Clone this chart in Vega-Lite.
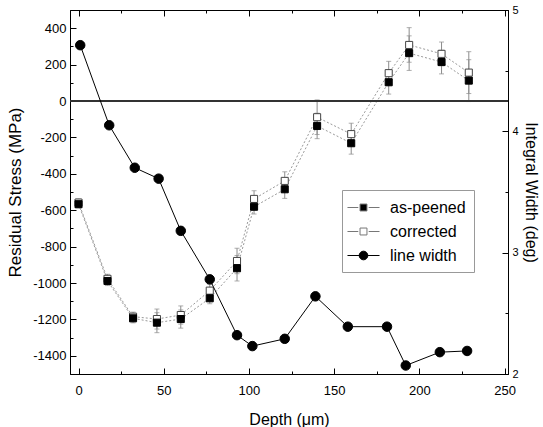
{
  "$schema": "https://vega.github.io/schema/vega-lite/v6.json",
  "width": 438,
  "height": 364,
  "autosize": "none",
  "padding": {"left": 70, "top": 10, "right": 35, "bottom": 53},
  "config": {
    "font": "Liberation Sans",
    "view": {"stroke": "black", "strokeWidth": 1},
    "axis": {
      "domainColor": "black", "tickColor": "black", "labelColor": "black", "titleColor": "black",
      "grid": false, "labelFont": "Liberation Sans", "titleFont": "Liberation Sans", "titleFontWeight": "normal"
    },
    "legend": {
      "orient": "none", "legendX": 272, "legendY": 180,
      "strokeColor": "#999", "padding": 8, "labelFontSize": 16, "labelFont": "Liberation Sans",
      "symbolSize": 300, "symbolOffset": 4, "labelOffset": 17, "rowPadding": 6, "fillColor": "white",
      "symbolOpacity": 1, "symbolStrokeWidth": 1
    }
  },
  "datasets": {
    "stress": [
      {"depth": 0, "series": "corrected", "stress": -558, "err": 20},
      {"depth": 17, "series": "corrected", "stress": -977, "err": 25},
      {"depth": 32, "series": "corrected", "stress": -1185, "err": 25},
      {"depth": 46, "series": "corrected", "stress": -1198, "err": 55},
      {"depth": 60, "series": "corrected", "stress": -1176, "err": 50},
      {"depth": 77, "series": "corrected", "stress": -1042, "err": 35},
      {"depth": 93, "series": "corrected", "stress": -879, "err": 70},
      {"depth": 103, "series": "corrected", "stress": -538, "err": 45},
      {"depth": 121, "series": "corrected", "stress": -439, "err": 50},
      {"depth": 140, "series": "corrected", "stress": -89, "err": 95},
      {"depth": 160, "series": "corrected", "stress": -182, "err": 60},
      {"depth": 182, "series": "corrected", "stress": 153, "err": 65},
      {"depth": 194, "series": "corrected", "stress": 308, "err": 95},
      {"depth": 213, "series": "corrected", "stress": 259, "err": 65},
      {"depth": 229, "series": "corrected", "stress": 156, "err": 115},
      {"depth": 0, "series": "as-peened", "stress": -567, "err": 20},
      {"depth": 17, "series": "as-peened", "stress": -989, "err": 25},
      {"depth": 32, "series": "as-peened", "stress": -1194, "err": 25},
      {"depth": 46, "series": "as-peened", "stress": -1218, "err": 55},
      {"depth": 60, "series": "as-peened", "stress": -1198, "err": 50},
      {"depth": 77, "series": "as-peened", "stress": -1084, "err": 30},
      {"depth": 93, "series": "as-peened", "stress": -919, "err": 70},
      {"depth": 103, "series": "as-peened", "stress": -581, "err": 40},
      {"depth": 121, "series": "as-peened", "stress": -485, "err": 50},
      {"depth": 140, "series": "as-peened", "stress": -137, "err": 70},
      {"depth": 160, "series": "as-peened", "stress": -232, "err": 60},
      {"depth": 182, "series": "as-peened", "stress": 103, "err": 65},
      {"depth": 194, "series": "as-peened", "stress": 263, "err": 95},
      {"depth": 213, "series": "as-peened", "stress": 214, "err": 65},
      {"depth": 229, "series": "as-peened", "stress": 112, "err": 115}
    ],
    "width": [
      {"depth": 1, "series": "line width", "width": 4.71},
      {"depth": 18, "series": "line width", "width": 4.05},
      {"depth": 33, "series": "line width", "width": 3.70},
      {"depth": 47, "series": "line width", "width": 3.61},
      {"depth": 60, "series": "line width", "width": 3.18},
      {"depth": 77, "series": "line width", "width": 2.78},
      {"depth": 93, "series": "line width", "width": 2.32},
      {"depth": 102, "series": "line width", "width": 2.23},
      {"depth": 121, "series": "line width", "width": 2.29},
      {"depth": 139, "series": "line width", "width": 2.64},
      {"depth": 158, "series": "line width", "width": 2.39},
      {"depth": 181, "series": "line width", "width": 2.39},
      {"depth": 192, "series": "line width", "width": 2.07},
      {"depth": 212, "series": "line width", "width": 2.18},
      {"depth": 228, "series": "line width", "width": 2.19}
    ]
  },
  "layer": [
    {
      "data": {"name": "stress"},
      "encoding": {
        "x": {
          "field": "depth", "type": "quantitative", "title": "Depth (μm)",
          "scale": {"domain": [-5, 252], "nice": false, "zero": false},
          "axis": {
            "orient": "bottom",
            "values": [0, 25, 50, 75, 100, 125, 150, 175, 200, 225, 250],
            "labelExpr": "datum.value % 50 === 0 ? '' + datum.value : ''",
            "tickSize": {"condition": {"test": "datum.value % 50 === 0", "value": -6}, "value": -3},
            "labelPadding": 16, "labelFontSize": 13, "titleFontSize": 16, "titlePadding": 14
          }
        },
        "y": {
          "field": "stress", "type": "quantitative", "title": "Residual Stress (MPa)",
          "scale": {"domain": [-1500, 500], "nice": false, "zero": false},
          "axis": {
            "values": [-1400, -1300, -1200, -1100, -1000, -900, -800, -700, -600, -500, -400, -300, -200, -100, 0, 100, 200, 300, 400],
            "labelExpr": "datum.value % 200 === 0 ? '' + datum.value : ''",
            "tickSize": {"condition": {"test": "datum.value % 200 === 0", "value": -6}, "value": -3},
            "labelPadding": 10, "labelFontSize": 13, "titleFontSize": 17, "titlePadding": 8
          }
        }
      },
      "layer": [
        {
          "mark": {"type": "errorbar", "ticks": {"size": 5, "color": "#8c8c8c"}, "rule": {"color": "#8c8c8c"}},
          "encoding": {"yError": {"field": "err"}}
        },
        {
          "mark": {"type": "line", "color": "#999", "strokeWidth": 1, "strokeDash": [2, 2]},
          "encoding": {"detail": {"field": "series"}}
        },
        {
          "transform": [{"filter": "datum.series === 'corrected'"}],
          "mark": {"type": "point", "shape": "square", "size": 50, "strokeWidth": 1, "opacity": 1, "fill": "white", "stroke": "#444"}
        },
        {
          "transform": [{"filter": "datum.series === 'as-peened'"}],
          "mark": {"type": "point", "shape": "square", "size": 50, "strokeWidth": 1, "opacity": 1, "fill": "black", "stroke": "black"}
        },
        {
          "mark": {"type": "point", "opacity": 0},
          "encoding": {
            "shape": {
              "field": "series", "title": null,
              "scale": {
                "domain": ["as-peened", "corrected", "line width"],
                "range": [
                  "M-1.85,0H-0.6M0.6,0H1.85M-0.4,-0.4H0.4V0.4H-0.4Z",
                  "M-1.85,0H-0.6M0.6,0H1.85M-0.4,-0.4H0.4V0.4H-0.4Z",
                  "M-1.85,0H1.85M-0.5,0A0.5,0.5,0,1,1,0.5,0A0.5,0.5,0,1,1,-0.5,0Z"
                ]
              }
            },
            "fill": {
              "field": "series", "title": null,
              "scale": {"domain": ["as-peened", "corrected", "line width"], "range": ["black", "white", "black"]}
            },
            "stroke": {
              "field": "series", "title": null,
              "scale": {"domain": ["as-peened", "corrected", "line width"], "range": ["#777", "#777", "black"]}
            }
          }
        },
        {
          "mark": {"type": "rule", "color": "#333", "strokeWidth": 1},
          "encoding": {"x": {"datum": -5}, "x2": {"datum": 252}, "y": {"datum": 0}}
        }
      ]
    },
    {
      "data": {"name": "width"},
      "encoding": {
        "x": {
          "field": "depth", "type": "quantitative",
          "scale": {"domain": [-5, 252], "nice": false, "zero": false},
          "axis": {
            "orient": "top", "title": null, "labels": false,
            "values": [0, 25, 50, 75, 100, 125, 150, 175, 200, 225, 250],
            "tickSize": {"condition": {"test": "datum.value % 50 === 0", "value": -6}, "value": -3}
          }
        },
        "y": {
          "field": "width", "type": "quantitative", "title": "Integral Width (deg)",
          "scale": {"domain": [2, 5], "nice": false, "zero": false},
          "axis": {
            "orient": "right",
            "values": [2, 2.5, 3, 3.5, 4, 4.5, 5],
            "labelExpr": "datum.value % 1 === 0 ? '' + datum.value : ''",
            "tickSize": {"condition": {"test": "datum.value % 1 === 0", "value": -6}, "value": -3},
            "labelPadding": 10, "labelFontSize": 11, "titleFontSize": 16, "titlePadding": 4
          }
        }
      },
      "layer": [
        {"mark": {"type": "line", "color": "black", "strokeWidth": 1}},
        {"mark": {"type": "point", "shape": "circle", "size": 90, "strokeWidth": 1, "opacity": 1, "fill": "black", "stroke": "black"}}
      ]
    }
  ],
  "resolve": {"scale": {"y": "independent"}, "axis": {"x": "independent"}}
}
